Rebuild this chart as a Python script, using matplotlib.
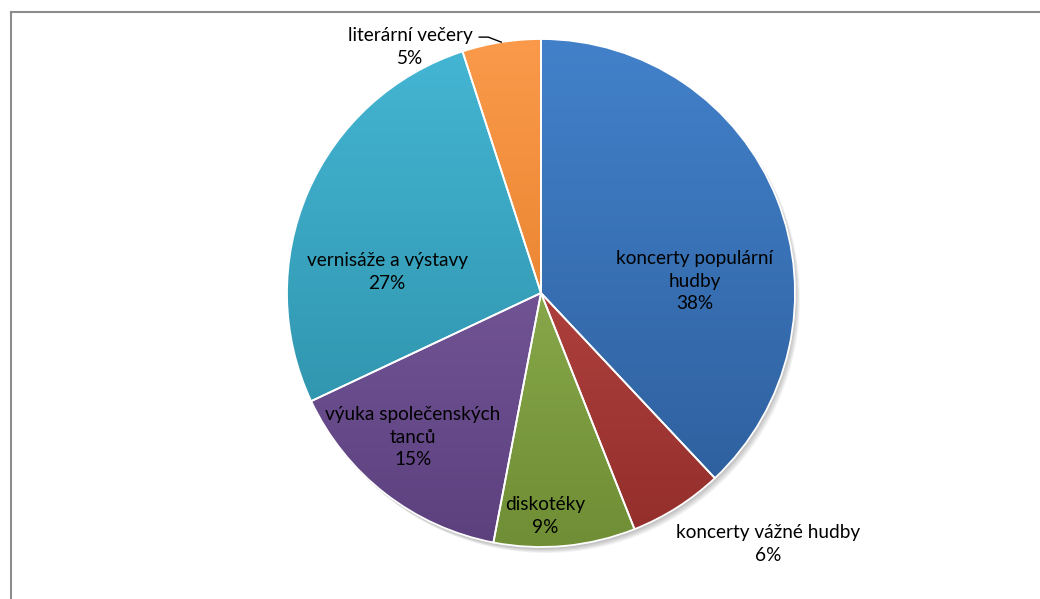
import numpy as np
import matplotlib.pyplot as plt
from matplotlib.colors import to_rgb
from matplotlib.lines import Line2D
from matplotlib.patches import Circle

# Podíl zájmu o jednotlivé kulturní akce (%)
labels = ['koncerty populární\nhudby', 'koncerty vážné hudby', 'diskotéky',
          'výuka společenských\ntanců', 'vernisáže a výstavy', 'literární večery']
shares = [38, 6, 9, 15, 27, 5]

# light (top) and dark (bottom) shade of each slice
light = ['#4281ca', '#c9514e', '#a0c05e', '#8667aa', '#44b6d4', '#fa9a4a']
dark = ['#2c5c99', '#922e2b', '#6f8e35', '#5c407e', '#2a8aa2', '#dc731e']

# label offsets from the pie centre, in units of the radius
label_pos = [(0.606, 0.047), (0.894, -0.988), (0.016, -0.878),
             (-0.504, -0.567), (-0.606, 0.083), (-0.516, 0.969)]

W, H = 1040, 599
cx, cy, r = 541, H - 293, 254

fig = plt.figure(figsize=(W / 100, H / 100), dpi=100)
ax = fig.add_axes([0, 0, 1, 1])

# soft drop shadow
for k in range(5):
    ax.add_patch(Circle((cx + 1 + k, cy - 2 - k), r, facecolor='black',
                        edgecolor='none', alpha=0.05, zorder=0))

wedges, _ = ax.pie(shares, startangle=90, counterclock=False,
                   center=(cx, cy), radius=r,
                   wedgeprops=dict(facecolor='none', edgecolor='white', linewidth=1.3))

t = np.linspace(0, 1, 256)[:, None]
for w, c1, c2 in zip(wedges, light, dark):
    lo, hi = np.array(to_rgb(c2)), np.array(to_rgb(c1))
    grad = lo[None, None, :] + (hi - lo)[None, None, :] * t[:, :, None]
    grad = np.repeat(grad, 2, axis=1)
    im = ax.imshow(grad, extent=(cx - r, cx + r, cy - r, cy + r), origin='lower',
                   interpolation='bilinear', zorder=1)
    im.set_clip_path(w)
    w.set_zorder(2)

font = dict(family=['Lato', 'DejaVu Sans'], fontsize=13.7, color='black',
            ha='center', va='center', linespacing=1.38, zorder=5)
for lab, val, (fx, fy) in zip(labels, shares, label_pos):
    ax.text(cx + fx * r, cy + fy * r, f'{lab}\n{val}%', **font)

# leader line for the small slice
w = wedges[-1]
mid = np.deg2rad((w.theta1 + w.theta2) / 2)
px, py = cx + r * np.cos(mid), cy + r * np.sin(mid)
ax.plot([px, px - 13, px - 22], [py, py + 5, py + 5], color='black', lw=1, zorder=5)

ax.set_xlim(0, W)
ax.set_ylim(0, H)
ax.axis('off')

# chart area border
fig.add_artist(Line2D([10.5 / W, 10.5 / W], [0, 1 - 11.5 / H], color='#8c8c8c', lw=1.5))
fig.add_artist(Line2D([10.5 / W, 1], [1 - 11.5 / H, 1 - 11.5 / H], color='#8c8c8c', lw=1.5))

fig.savefig('out.png', dpi=100)
